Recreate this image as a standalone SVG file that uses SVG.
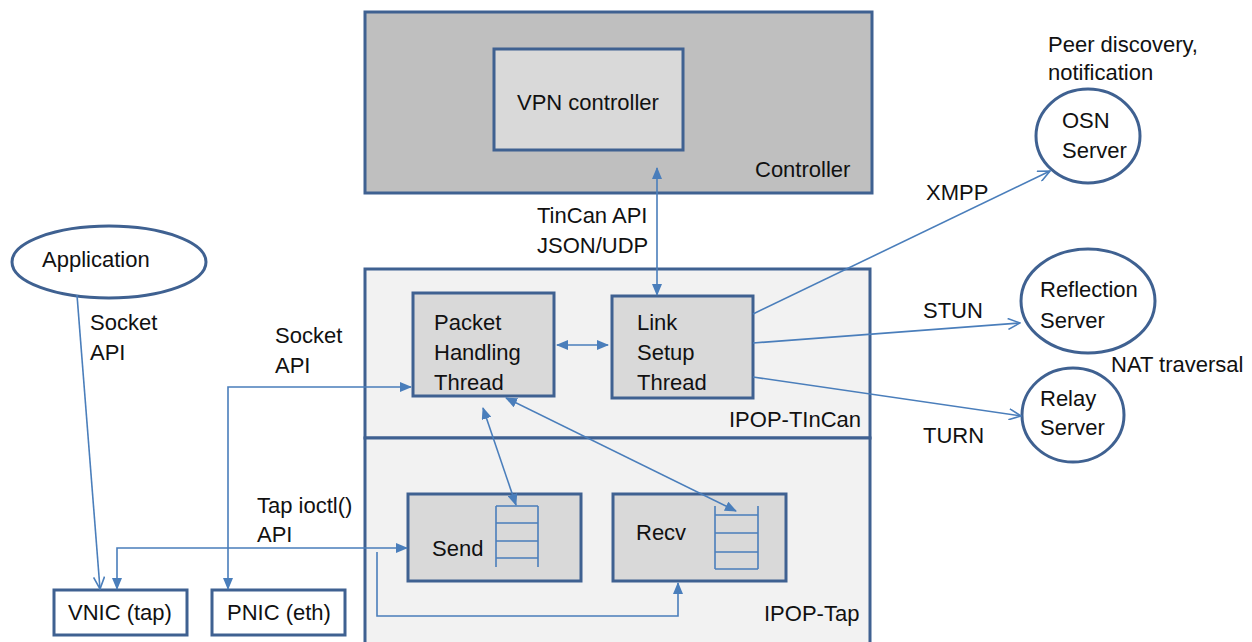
<svg xmlns="http://www.w3.org/2000/svg" width="1252" height="642" viewBox="0 0 1252 642">
<defs>
<style>
.box{stroke:#3f6191;stroke-width:3}
.outer{fill:#f2f2f2}
.ctrl{fill:#bfbfbf}
.inner{fill:#d9d9d9}
.node{fill:#ffffff}
.ell{fill:#ffffff;stroke:#3f6191;stroke-width:3}
.t{font-family:"Liberation Sans",Arial,sans-serif;font-size:22px;fill:#111}
.c{fill:none;stroke:#4a7ebb;stroke-width:1.6}
.q{fill:none;stroke:#4a7ebb;stroke-width:1.6}
</style>
<marker id="tri" viewBox="0 0 12 10" refX="11" refY="5" markerWidth="12" markerHeight="10" markerUnits="userSpaceOnUse" orient="auto-start-reverse">
<path d="M0,0 L12,5 L0,10 Z" fill="#4a7ebb"/>
</marker>
<marker id="vee" viewBox="0 0 14 12" refX="13" refY="6" markerWidth="14" markerHeight="12" markerUnits="userSpaceOnUse" orient="auto">
<path d="M1,0.5 L13,6 L1,11.5" fill="none" stroke="#4a7ebb" stroke-width="1.6"/>
</marker>
</defs>
<rect width="1252" height="642" fill="#ffffff"/>

<g id="controller">
<rect class="box ctrl" x="365" y="12" width="507" height="181"/>
<text class="t" x="755" y="177">Controller</text>
</g>
<g id="vpn-controller">
<rect class="box inner" x="494" y="49" width="189" height="101"/>
<text class="t" x="517" y="110">VPN controller</text>
</g>

<g id="ipop-tincan">
<rect class="box outer" x="365" y="269" width="505" height="169"/>
<text class="t" x="729" y="427">IPOP-TInCan</text>
</g>
<g id="ipop-tap">
<rect class="box outer" x="365" y="438" width="505" height="230"/>
<text class="t" x="764" y="621">IPOP-Tap</text>
</g>

<g id="packet-handling">
<rect class="box inner" x="413" y="293" width="141" height="103"/>
<text class="t" x="434" y="330">Packet</text>
<text class="t" x="434" y="360">Handling</text>
<text class="t" x="434" y="390">Thread</text>
</g>
<g id="link-setup">
<rect class="box inner" x="612" y="296" width="141" height="102"/>
<text class="t" x="637" y="330">Link</text>
<text class="t" x="637" y="360">Setup</text>
<text class="t" x="637" y="390">Thread</text>
</g>

<g id="send">
<rect class="box inner" x="408" y="494" width="173" height="87"/>
<text class="t" x="432" y="556">Send</text>
<path class="q" d="M496,506 V567 M538,506 V567 M496,506 H538 M496,523 H538 M496,541 H538 M496,558 H538"/>
</g>
<g id="recv">
<rect class="box inner" x="613" y="494" width="173" height="87"/>
<text class="t" x="636" y="540">Recv</text>
<path class="q" d="M715,506 V569 M758,506 V569 M715,515 H758 M715,533 H758 M715,552 H758 M715,569 H758"/>
</g>

<g id="application">
<ellipse class="ell" cx="109" cy="262" rx="97" ry="36"/>
<text class="t" x="42" y="267">Application</text>
</g>
<g id="vnic">
<rect class="box node" x="54" y="590" width="133" height="45"/>
<text class="t" x="68" y="620">VNIC (tap)</text>
</g>
<g id="pnic">
<rect class="box node" x="212" y="590" width="133" height="45"/>
<text class="t" x="227" y="620">PNIC (eth)</text>
</g>

<g id="osn-server">
<ellipse class="ell" cx="1088" cy="136" rx="52" ry="47"/>
<text class="t" x="1062" y="128">OSN</text>
<text class="t" x="1062" y="158">Server</text>
</g>
<g id="reflection-server">
<ellipse class="ell" cx="1088" cy="301" rx="67" ry="52"/>
<text class="t" x="1040" y="297">Reflection</text>
<text class="t" x="1040" y="328">Server</text>
</g>
<g id="relay-server">
<ellipse class="ell" cx="1073" cy="415" rx="51" ry="47"/>
<text class="t" x="1040" y="406">Relay</text>
<text class="t" x="1040" y="435">Server</text>
</g>

<g id="connectors">
<line class="c" x1="657" y1="168" x2="657" y2="295" marker-start="url(#tri)" marker-end="url(#tri)"/>
<line class="c" x1="557" y1="345" x2="608" y2="345" marker-start="url(#tri)" marker-end="url(#tri)"/>
<line class="c" x1="483" y1="408" x2="516" y2="505" marker-start="url(#tri)" marker-end="url(#tri)"/>
<line class="c" x1="506" y1="398" x2="736" y2="511" marker-start="url(#tri)" marker-end="url(#tri)"/>
<path class="c" d="M228,589 V387 H411" marker-start="url(#tri)" marker-end="url(#tri)"/>
<path class="c" d="M117,589 V548 H407" marker-start="url(#tri)" marker-end="url(#tri)"/>
<path class="c" d="M377,552 V616 H678 V583" marker-end="url(#tri)"/>
<line class="c" x1="77" y1="295" x2="100" y2="589" marker-end="url(#vee)"/>
<line class="c" x1="753" y1="314" x2="1050" y2="171" marker-end="url(#vee)"/>
<line class="c" x1="753" y1="343" x2="1020" y2="323" marker-end="url(#vee)"/>
<line class="c" x1="753" y1="377" x2="1021" y2="416" marker-end="url(#vee)"/>
</g>

<g id="labels">
<text class="t" x="537" y="223">TinCan API</text>
<text class="t" x="537" y="253">JSON/UDP</text>
<text class="t" x="90" y="330">Socket</text>
<text class="t" x="90" y="360">API</text>
<text class="t" x="275" y="343">Socket</text>
<text class="t" x="275" y="373">API</text>
<text class="t" x="257" y="513">Tap ioctl()</text>
<text class="t" x="257" y="542">API</text>
<text class="t" x="1048" y="52">Peer discovery,</text>
<text class="t" x="1048" y="80">notification</text>
<text class="t" x="926" y="200">XMPP</text>
<text class="t" x="923" y="318">STUN</text>
<text class="t" x="923" y="443">TURN</text>
<text class="t" x="1111" y="372">NAT traversal</text>
</g>
</svg>
